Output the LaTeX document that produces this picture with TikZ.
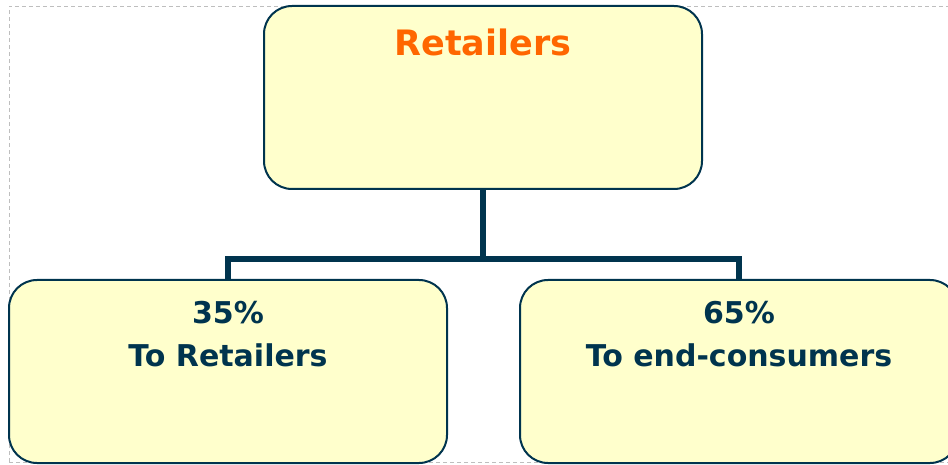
\documentclass[tikz,border=0pt]{standalone}
\usepackage{fontspec}
\setmainfont{DejaVu Sans}
\usetikzlibrary{positioning,calc}
\definecolor{rtfill}{RGB}{255,255,204}
\definecolor{rtnavy}{RGB}{0,52,78}
\definecolor{rtorange}{RGB}{255,102,0}
\definecolor{rtframe}{RGB}{190,190,190}
\tikzset{
  rtbox/.style={
    draw=rtnavy, fill=rtfill, line width=2pt, rounded corners=28pt,
    minimum width=438pt, minimum height=183pt, inner sep=0pt
  },
  rttitle/.style={font=\bfseries\fontsize{35}{40}\selectfont, text=rtorange, inner sep=0pt},
  rttext/.style={font=\bfseries\fontsize{30}{43}\selectfont, text=rtnavy,
    align=center, inner sep=0pt},
  rtline/.style={draw=rtnavy, line width=6pt},
  rtframe/.style={draw=rtframe, line width=0.8pt, dash pattern=on 4pt off 3pt},
}

\begin{document}
\begin{tikzpicture}[x=1pt, y=1pt]
  \useasboundingbox (0,0) rectangle (948,464);
  \clip (0,0) rectangle (948,464);

  \draw[rtframe] (9,2) rectangle (990,458);

  \node[rtbox] (top) at (483,366.5) {};
  \node[rtbox] (ret) at (228,92.5) {};
  \node[rtbox] (end) at (739,92.5) {};

  \node[rttitle, below=24pt of top.north] (ttl) {Retailers};
  \node[rttext, below=22pt of ret.north] (rettxt) {35\%\\To Retailers};
  \node[rttext, below=22pt of end.north] (endtxt) {65\%\\To end-consumers};

  \coordinate (split) at ($(top.south)+(0,-69)$);
  \draw[rtline] (top.south) -- (split) -| (ret.north);
  \draw[rtline] (split) -| (end.north);
\end{tikzpicture}
\end{document}
